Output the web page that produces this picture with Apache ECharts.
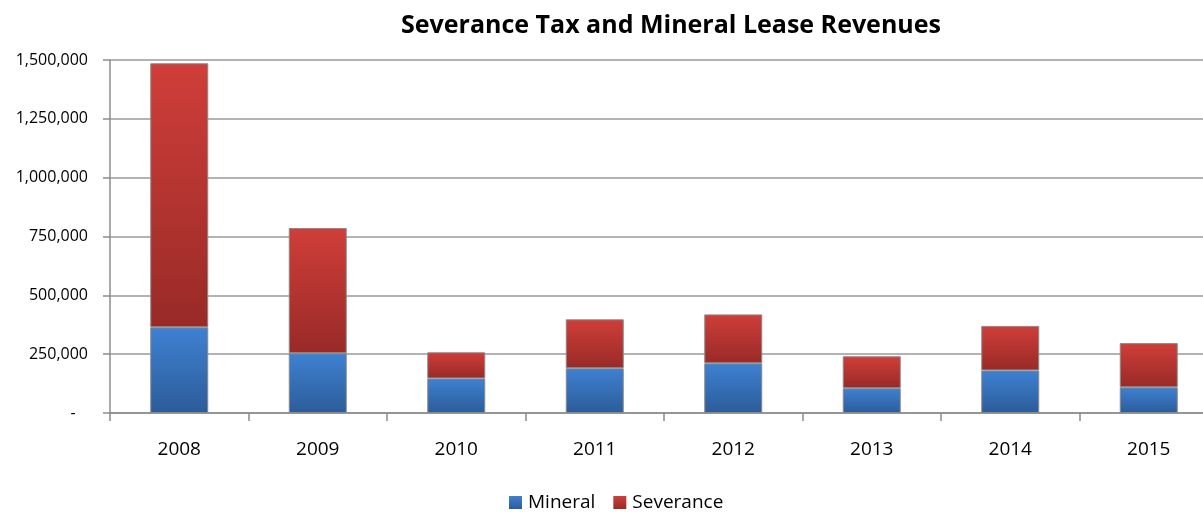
<!DOCTYPE html>
<html>
<head>
<meta charset="utf-8">
<script src="https://cdn.jsdelivr.net/npm/echarts@6/dist/echarts.min.js"></script>
<style>
  html, body { margin: 0; padding: 0; background: #fff; overflow: hidden; }
  #chart { width: 1220px; height: 512px; }
</style>
</head>
<body>
<div id="chart"></div>
<script>
// Revenue by fiscal year
const years = ['2008', '2009', '2010', '2011', '2012', '2013', '2014', '2015'];
const mineral = [364000, 254000, 147000, 190000, 211000, 105000, 181000, 109000];
const severance = [1122000, 532000, 111000, 208000, 208000, 136000, 189000, 188000];
const yTicks = [0, 250000, 500000, 750000, 1000000, 1250000, 1500000];

const FONT = '"Open Sans", "Noto Sans", sans-serif';

function vGrad(top, bottom) {
  return {
    type: 'linear', x: 0, y: 0, x2: 0, y2: 1,
    colorStops: [{ offset: 0, color: top }, { offset: 1, color: bottom }]
  };
}

const chart = echarts.init(document.getElementById('chart'), null, { renderer: 'canvas' });

chart.setOption({
  animation: false,
  backgroundColor: '#ffffff',
  title: {
    text: 'Severance Tax and Mineral Lease Revenues',
    left: 666, top: 8, textAlign: 'center',
    textStyle: { fontFamily: FONT, fontSize: 25, fontWeight: 'bold', color: '#000' }
  },
  legend: {
    top: 488, left: 504,
    itemWidth: 13, itemHeight: 13, itemGap: 18,
    icon: 'rect',
    itemStyle: { borderWidth: 0 },
    textStyle: { fontFamily: FONT, fontSize: 19, color: '#000', padding: [0, 0, 0, 1] },
    data: ['Mineral', 'Severance']
  },
  grid: { left: 110, top: 60, width: 1108, height: 353, containLabel: false },
  xAxis: {
    type: 'category',
    data: years,
    axisLine: { lineStyle: { color: '#8c8c8c', width: 1.5 } },
    axisTick: { show: true, length: 8, alignWithLabel: false, lineStyle: { color: '#8c8c8c', width: 1.5 } },
    axisLabel: { fontFamily: FONT, fontSize: 19, color: '#000', margin: 27 }
  },
  yAxis: {
    type: 'value',
    min: yTicks[0], max: yTicks[yTicks.length - 1], interval: yTicks[1] - yTicks[0],
    axisLine: { show: true, lineStyle: { color: '#8c8c8c', width: 1.5 } },
    axisTick: { show: true, length: 7, lineStyle: { color: '#8c8c8c', width: 1.5 } },
    splitLine: { lineStyle: { color: '#9a9a9a', width: 1.5 } },
    axisLabel: {
      fontFamily: FONT, fontSize: 16, color: '#000', margin: 22,
      formatter: v => v === 0 ? '-   ' : v.toLocaleString('en-US')
    }
  },
  series: [
    {
      name: 'Mineral', type: 'bar', stack: 'rev', barWidth: 58,
      data: mineral,
      itemStyle: { color: vGrad('#3e81d2', '#2c5c99'), borderColor: '#8a8a8a', borderWidth: 1 }
    },
    {
      name: 'Severance', type: 'bar', stack: 'rev', barWidth: 58,
      data: severance,
      itemStyle: { color: vGrad('#d03e39', '#982a27'), borderColor: '#8a8a8a', borderWidth: 1 }
    }
  ]
});
</script>
</body>
</html>
